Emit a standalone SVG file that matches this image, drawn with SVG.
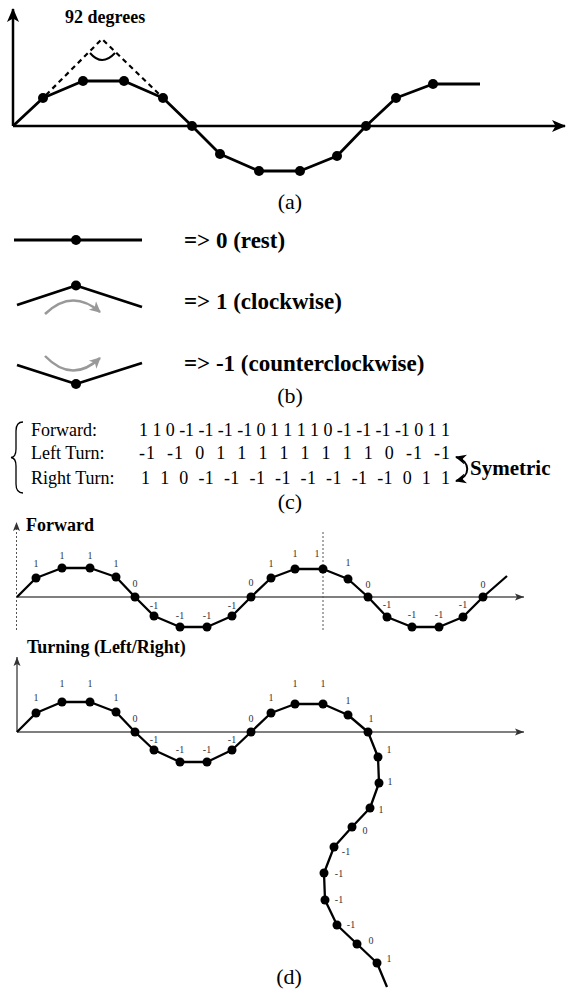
<svg xmlns="http://www.w3.org/2000/svg" width="567" height="992" viewBox="0 0 567 992">
<style>
.ax{stroke:#000;stroke-width:2.5;fill:none}
.axd{stroke:#555;stroke-width:1.5;fill:none}
.dot1{stroke:#555;stroke-width:1;stroke-dasharray:2 2;fill:none}
.crv{stroke:#000;stroke-width:2.8;fill:none;stroke-linejoin:round}
.crvd{stroke:#000;stroke-width:2.3;fill:none;stroke-linejoin:round}
.dash{stroke:#000;stroke-width:2.2;stroke-dasharray:5 4;fill:none}
.garr{stroke:#999;stroke-width:2.5;fill:none}
.serif{font-family:"Liberation Serif","Times New Roman",serif;fill:#000}
.bold{font-weight:bold}
.cap{font-size:22px;text-anchor:middle}
.lab{font-family:"Liberation Serif","Times New Roman",serif;font-size:10px;fill:#333;text-anchor:middle}
</style>
<defs>
<marker id="arrA" markerUnits="userSpaceOnUse" markerWidth="16" markerHeight="14" refX="13" refY="7" orient="auto"><path d="M0,1 L14,7 L0,13 L3.5,7 Z" fill="#000"/></marker>
<marker id="arrD" markerUnits="userSpaceOnUse" markerWidth="10" markerHeight="8" refX="9" refY="4" orient="auto"><path d="M0,0.5 L9,4 L0,7.5 L2,4 Z" fill="#333"/></marker>
<marker id="arrG" markerUnits="userSpaceOnUse" markerWidth="14" markerHeight="14" refX="10" refY="7" orient="auto"><path d="M0,1.5 L11,7 L0,12.5 L3,7 Z" fill="#999"/></marker>
<marker id="arrS" markerUnits="userSpaceOnUse" markerWidth="12" markerHeight="12" refX="10" refY="6" orient="auto-start-reverse"><path d="M0,1 L11,6 L0,11 L3,6 Z" fill="#000"/></marker>
</defs>

<g id="panel-a">
  <line class="ax" x1="13" y1="126" x2="13" y2="9" marker-end="url(#arrA)"/>
  <line class="ax" x1="13" y1="126" x2="565" y2="126" marker-end="url(#arrA)"/>
  <path class="dash" d="M46,95 L102,39 L160,95"/>
  <path d="M90,53 Q102,67 115,53" stroke="#000" stroke-width="2" fill="none"/>
  <text class="serif bold" x="65" y="23" font-size="18">92 degrees</text>
  <polyline class="crv" points="13,126 43,98 83,81 124,81 163,98 192,126 220,154 259,171 300,171 337,156 366,126 396,98 433,84 480,84"/>
  <g fill="#000">
    <circle cx="43" cy="98" r="5"/><circle cx="83" cy="81" r="5"/><circle cx="124" cy="81" r="5"/><circle cx="163" cy="98" r="5"/>
    <circle cx="192" cy="126" r="5"/><circle cx="220" cy="154" r="5"/><circle cx="259" cy="171" r="5"/><circle cx="300" cy="171" r="5"/>
    <circle cx="337" cy="156" r="5"/><circle cx="366" cy="126" r="5"/><circle cx="396" cy="98" r="5"/><circle cx="433" cy="84" r="5"/>
  </g>
  <text class="serif cap" x="290" y="209">(a)</text>
</g>

<g id="panel-b">
  <g id="rest">
    <line class="crv" x1="14" y1="240" x2="142" y2="240"/>
    <circle cx="76" cy="240" r="5"/>
    <text class="serif bold" x="184" y="248" font-size="23">=&gt; 0 (rest)</text>
  </g>
  <g id="clockwise">
    <polyline class="crv" points="17,305 76,285.5 142,307"/>
    <circle cx="76" cy="285.5" r="5"/>
    <path class="garr" d="M45,314 Q72,288 100,312" marker-end="url(#arrG)"/>
    <text class="serif bold" x="184" y="309" font-size="23">=&gt; 1 (clockwise)</text>
  </g>
  <g id="counterclockwise">
    <polyline class="crv" points="17,365 76,384 142,363"/>
    <circle cx="76" cy="384" r="5"/>
    <path class="garr" d="M45,356 Q72,384 100,358" marker-end="url(#arrG)"/>
    <text class="serif bold" x="184" y="370.5" font-size="23">=&gt; -1 (counterclockwise)</text>
  </g>
  <text class="serif cap" x="290" y="403">(b)</text>
</g>

<g id="panel-c" class="serif" font-size="18">
  <path d="M23,422 Q16,422 16,431 L16,449 Q16,457 11,457.5 Q16,458 16,466 L16,484 Q16,493 23,493" stroke="#000" stroke-width="1.3" fill="none"/>
  <text x="31" y="435.5">Forward:</text>
  <text x="31" y="459">Left Turn:</text>
  <text x="31" y="483.5">Right Turn:</text>
  <text x="139" y="435.5" textLength="311" lengthAdjust="spacing" xml:space="preserve">1 1 0 -1 -1 -1 -1 0 1 1 1 1 0 -1 -1 -1 -1 0 1 1</text>
  <text x="139" y="459" textLength="311" lengthAdjust="spacing" xml:space="preserve">-1  -1  0  1  1  1  1  1  1  1  1  0  -1  -1</text>
  <text x="141" y="483.5" textLength="309" lengthAdjust="spacing" xml:space="preserve">1  1  0  -1  -1  -1  -1  -1  -1  -1  -1  0  1  1</text>
  <path d="M456,457 C471,461 471,477 456,481" stroke="#000" stroke-width="2" fill="none" marker-start="url(#arrS)" marker-end="url(#arrS)"/>
  <text class="bold" x="470" y="475" font-size="21">Symetric</text>
  <text class="cap" x="290" y="509">(c)</text>
</g>

<g id="panel-d-forward">
  <text class="serif bold" x="26" y="531" font-size="18">Forward</text>
  <line class="dot1" x1="16.5" y1="630" x2="16.5" y2="522" marker-end="url(#arrD)"/>
  <line class="axd" x1="17" y1="597" x2="524" y2="597" marker-end="url(#arrD)"/>
  <line class="dot1" x1="323" y1="532" x2="323" y2="630"/>
  <polyline class="crvd" points="17,597 36,578 62,568 90,568 116,577 135,597 154,616 180,627 207,627 232,616 251,597 271,578 295,569 323,569 348,579 368,597 387,617 412,627 439,627 463,617 483,597 507,576"/>
  <g fill="#000">
    <circle cx="36" cy="578" r="4.5"/><circle cx="62" cy="568" r="4.5"/><circle cx="90" cy="568" r="4.5"/><circle cx="116" cy="577" r="4.5"/>
    <circle cx="135" cy="597" r="4.5"/><circle cx="154" cy="616" r="4.5"/><circle cx="180" cy="627" r="4.5"/><circle cx="207" cy="627" r="4.5"/>
    <circle cx="232" cy="616" r="4.5"/><circle cx="251" cy="597" r="4.5"/><circle cx="271" cy="578" r="4.5"/><circle cx="295" cy="569" r="4.5"/>
    <circle cx="323" cy="569" r="4.5"/><circle cx="348" cy="579" r="4.5"/><circle cx="368" cy="597" r="4.5"/><circle cx="387" cy="617" r="4.5"/>
    <circle cx="412" cy="627" r="4.5"/><circle cx="439" cy="627" r="4.5"/><circle cx="463" cy="617" r="4.5"/><circle cx="483" cy="597" r="4.5"/>
  </g>
  <g class="lab">
    <text x="36" y="566.5">1</text><text x="62" y="558.5">1</text><text x="90" y="558.5">1</text><text x="116" y="566.5">1</text>
    <text x="135" y="586.5">0</text><text x="154" y="608.5">-1</text><text x="180" y="618.5">-1</text><text x="207" y="618.5">-1</text>
    <text x="232" y="608.5">-1</text><text x="251" y="585.5">0</text><text x="271" y="566.5">1</text><text x="295" y="556.5">1</text>
    <text x="317" y="556.5">1</text><text x="348" y="565.5">1</text><text x="368" y="587.5">0</text><text x="387" y="607.5">-1</text>
    <text x="412" y="617.5">-1</text><text x="439" y="617.5">-1</text><text x="463" y="607.5">-1</text><text x="483" y="587.5">0</text>
  </g>
</g>

<g id="panel-d-turning">
  <text class="serif bold" x="27" y="653" font-size="18">Turning (Left/Right)</text>
  <line class="axd" x1="17" y1="732" x2="17" y2="657" marker-end="url(#arrD)"/>
  <line class="axd" x1="17" y1="732" x2="524" y2="732" marker-end="url(#arrD)"/>
  <polyline class="crvd" points="17,732 36,713 62,702 90,702 116,712 135,732 154,750 180,762 207,762 232,750 251,732 271,713 295,704 323,704 348,715 368,732 378,757 379,783 370,808 352,827 334,847 324,873 325,900 337,925 357,944 377,963 387,987"/>
  <g fill="#000">
    <circle cx="36" cy="713" r="4.5"/><circle cx="62" cy="702" r="4.5"/><circle cx="90" cy="702" r="4.5"/><circle cx="116" cy="712" r="4.5"/>
    <circle cx="135" cy="732" r="4.5"/><circle cx="154" cy="750" r="4.5"/><circle cx="180" cy="762" r="4.5"/><circle cx="207" cy="762" r="4.5"/>
    <circle cx="232" cy="750" r="4.5"/><circle cx="251" cy="732" r="4.5"/><circle cx="271" cy="713" r="4.5"/><circle cx="295" cy="704" r="4.5"/>
    <circle cx="323" cy="704" r="4.5"/><circle cx="348" cy="715" r="4.5"/><circle cx="368" cy="732" r="4.5"/><circle cx="378" cy="757" r="4.5"/>
    <circle cx="379" cy="783" r="4.5"/><circle cx="370" cy="808" r="4.5"/><circle cx="352" cy="827" r="4.5"/><circle cx="334" cy="847" r="4.5"/>
    <circle cx="324" cy="873" r="4.5"/><circle cx="325" cy="900" r="4.5"/><circle cx="337" cy="925" r="4.5"/><circle cx="357" cy="944" r="4.5"/>
    <circle cx="377" cy="963" r="4.5"/>
  </g>
  <g class="lab">
    <text x="36" y="700.5">1</text><text x="62" y="686.5">1</text><text x="90" y="686.5">1</text><text x="116" y="700.5">1</text>
    <text x="135" y="721.5">0</text><text x="154" y="742.5">-1</text><text x="180" y="752.5">-1</text><text x="207" y="752.5">-1</text>
    <text x="232" y="742.5">-1</text><text x="251" y="721.5">0</text><text x="271" y="700.5">1</text><text x="295" y="686.5">1</text>
    <text x="323" y="686.5">1</text><text x="348" y="703.5">1</text><text x="371" y="721.5">1</text><text x="389" y="752.5">1</text>
    <text x="390" y="784.5">1</text><text x="381" y="812.5">1</text><text x="365" y="833.5">0</text><text x="346" y="854.5">-1</text>
    <text x="339" y="876.5">-1</text><text x="339" y="902.5">-1</text><text x="351" y="927.5">-1</text><text x="371" y="943.5">0</text>
    <text x="389" y="961.5">1</text>
  </g>
  <text class="serif cap" x="289" y="984">(d)</text>
</g>
</svg>
